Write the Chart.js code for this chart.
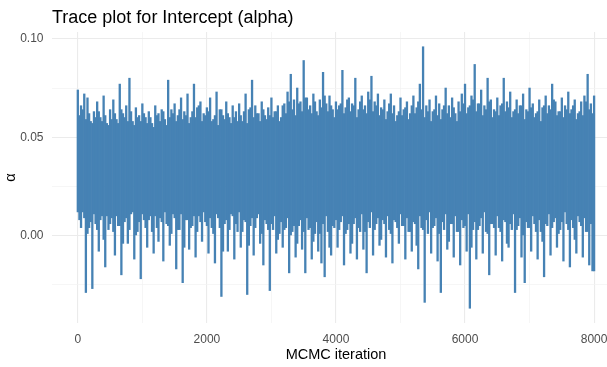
<!DOCTYPE html>
<html>
<head>
<meta charset="utf-8">
<script src="https://cdn.jsdelivr.net/npm/chart.js@4"></script>
<style>
  html, body { margin: 0; padding: 0; background: #ffffff; }
  #c { display: block; }
</style>
</head>
<body>
<canvas id="c" width="607" height="367"></canvas>
<script>
// ---- Data ----
// The trace is summarised per thin column (every 25 iterations) by the
// highest and lowest value the line reaches inside that column.
const colStep = 25;
// Columns at iterations 0, 50, 100, ..., 8000
const evenHigh = [
  0.074,0.066,0.072,0.070,0.058,0.063,0.068,0.060,0.071,0.057,
  0.064,0.069,0.059,0.077,0.062,0.066,0.080,0.058,0.065,0.061,
  0.067,0.060,0.063,0.057,0.066,0.062,0.064,0.059,0.079,0.064,
  0.067,0.061,0.070,0.063,0.072,0.060,0.077,0.065,0.068,0.062,
  0.065,0.070,0.059,0.073,0.064,0.061,0.068,0.060,0.066,0.063,
  0.067,0.058,0.072,0.064,0.079,0.066,0.062,0.068,0.061,0.065,
  0.070,0.063,0.066,0.060,0.067,0.073,0.082,0.069,0.075,0.068,
  0.089,0.070,0.066,0.072,0.063,0.069,0.083,0.067,0.071,0.064,
  0.068,0.066,0.084,0.065,0.070,0.067,0.080,0.064,0.071,0.066,
  0.073,0.081,0.068,0.072,0.065,0.069,0.063,0.072,0.066,0.061,
  0.070,0.064,0.068,0.062,0.071,0.065,0.077,0.096,0.066,0.069,
  0.063,0.071,0.067,0.064,0.075,0.066,0.070,0.062,0.068,0.072,
  0.077,0.065,0.071,0.087,0.067,0.074,0.066,0.080,0.069,0.064,
  0.070,0.066,0.080,0.068,0.073,0.063,0.069,0.066,0.072,0.064,
  0.075,0.067,0.062,0.069,0.065,0.071,0.066,0.077,0.068,0.063,
  0.070,0.066,0.073,0.064,0.069,0.062,0.068,0.071,0.082,0.067,
  0.071
];
const evenLow = [
  0.012,0.004,0.009,0.001,0.007,0.011,0.003,0.008,-0.002,0.010,
  0.006,0.002,0.010,0.005,-0.004,0.009,0.003,0.012,0.000,0.007,
  0.011,0.004,0.008,0.002,0.010,-0.003,0.007,0.012,0.005,0.001,
  0.009,0.003,0.011,-0.006,0.008,0.004,0.010,0.002,0.007,0.012,
  0.005,0.009,0.001,0.011,0.004,-0.008,0.008,0.003,0.010,0.006,
  0.012,0.002,0.007,-0.005,0.009,0.004,0.011,0.001,0.008,0.003,
  0.006,0.010,-0.002,0.007,0.003,0.009,0.000,0.005,-0.004,0.008,
  0.002,0.009,0.004,-0.003,0.007,0.001,0.006,0.010,-0.006,0.005,
  0.008,0.003,0.010,0.001,0.006,-0.004,0.009,0.004,0.011,0.002,
  0.007,0.012,0.003,0.009,-0.002,0.006,0.010,0.001,0.008,0.004,
  0.011,0.005,0.009,0.002,0.007,-0.005,0.010,0.003,0.008,0.012,
  0.004,0.009,0.001,0.007,0.011,-0.003,0.006,0.010,0.002,0.008,
  0.005,0.011,-0.006,0.007,0.003,0.009,0.012,0.001,0.006,0.004,
  0.010,0.002,0.008,-0.004,0.006,0.011,0.003,0.009,0.000,0.007,
  0.004,0.010,0.002,0.008,-0.003,0.006,0.011,0.004,0.009,0.001,
  0.007,0.012,0.003,0.008,-0.002,0.010,0.005,0.009,0.002,0.006,
  -0.018
];
// Columns at iterations 25, 75, 125, ..., 7975
const oddHigh = [
  0.061,0.064,0.059,0.062,0.057,0.060,0.063,0.058,0.061,0.056,
  0.059,0.062,0.057,0.064,0.060,0.058,0.063,0.056,0.060,0.058,
  0.062,0.057,0.060,0.055,0.061,0.058,0.063,0.056,0.060,0.062,
  0.058,0.064,0.059,0.061,0.057,0.063,0.060,0.066,0.058,0.061,
  0.063,0.058,0.061,0.056,0.064,0.059,0.062,0.057,0.060,0.058,
  0.061,0.063,0.057,0.065,0.060,0.062,0.058,0.064,0.059,0.061,
  0.060,0.063,0.058,0.066,0.062,0.068,0.064,0.061,0.067,0.063,
  0.070,0.064,0.062,0.068,0.061,0.065,0.071,0.063,0.066,0.060,
  0.064,0.067,0.062,0.069,0.063,0.066,0.060,0.068,0.064,0.062,
  0.069,0.063,0.066,0.061,0.064,0.059,0.067,0.062,0.058,0.063,
  0.061,0.065,0.059,0.066,0.062,0.068,0.064,0.060,0.063,0.058,
  0.064,0.061,0.059,0.066,0.062,0.060,0.065,0.058,0.063,0.067,
  0.062,0.066,0.069,0.063,0.067,0.061,0.064,0.068,0.060,0.063,
  0.061,0.067,0.063,0.065,0.060,0.064,0.062,0.066,0.059,0.063,
  0.065,0.060,0.063,0.058,0.066,0.062,0.064,0.069,0.061,0.063,
  0.060,0.064,0.062,0.066,0.059,0.063,0.061,0.068,0.064,0.062
];
const oddLow = [
  0.008,0.012,-0.029,0.004,-0.027,0.006,-0.008,0.010,-0.016,0.003,
  0.009,-0.010,0.005,-0.020,0.007,-0.004,0.011,-0.012,0.002,-0.022,
  0.008,-0.006,0.010,-0.009,0.004,0.009,-0.013,0.006,-0.005,0.011,
  -0.017,0.003,-0.024,0.008,-0.007,0.005,-0.011,0.010,-0.003,0.007,
  -0.009,0.004,-0.014,0.009,-0.031,0.006,-0.008,0.011,-0.012,0.002,
  -0.006,0.008,-0.030,0.005,-0.010,0.009,-0.004,-0.015,0.006,-0.028,
  0.003,-0.009,0.001,-0.006,0.004,-0.019,0.002,-0.011,0.005,-0.007,
  -0.019,0.003,-0.012,0.001,-0.008,-0.014,-0.021,0.002,-0.010,0.004,
  -0.006,0.007,-0.015,0.003,-0.009,0.006,-0.012,0.002,-0.007,-0.019,
  0.004,-0.010,0.006,-0.005,0.008,-0.011,0.003,-0.014,0.007,-0.004,
  0.005,-0.012,0.002,-0.008,0.006,-0.017,0.004,-0.034,0.001,-0.009,
  0.005,-0.013,-0.029,0.003,-0.007,0.006,-0.011,0.002,-0.015,0.004,
  -0.008,-0.037,0.003,-0.012,0.005,-0.009,0.002,-0.020,0.006,-0.010,
  0.004,-0.013,0.007,-0.006,0.003,-0.029,0.005,-0.011,-0.024,0.004,
  -0.008,0.006,-0.012,0.002,-0.021,0.005,-0.010,0.007,-0.006,0.003,
  -0.013,0.006,-0.016,0.004,-0.009,0.007,-0.011,0.002,-0.015,-0.018
];
// Axis ticks and labels
const xTicks = [0,1000,2000,3000,4000,5000,6000,7000,8000];
const xTickLabels = {0:'0',2000:'2000',4000:'4000',6000:'6000',8000:'8000'};
const yTicks = [-0.025,0,0.025,0.05,0.075,0.10];
const yTickLabels = {'0':'0.00','0.05':'0.05','0.1':'0.10'};
const titleText = 'Trace plot for Intercept (alpha)';
const xTitle = 'MCMC iteration';
const yTitle = 'α';

// Build one floating range per column, in iteration order
const columns = [];
for (let i = 0; i < evenHigh.length; i++) {
  columns.push({x: 2 * i * colStep, y: [evenLow[i], evenHigh[i]]});
  if (i < oddHigh.length) columns.push({x: (2 * i + 1) * colStep, y: [oddLow[i], oddHigh[i]]});
}

const FONT = '"Liberation Sans", Arial, sans-serif';
const isMajorX = v => Math.abs(v % 2000) < 1e-9;
const isMajorY = v => Math.abs(Math.round(v * 1000) % 50) < 1e-9;

const textPlugin = {
  id: 'texts',
  afterDraw(chart) {
    const ctx = chart.ctx;
    const area = chart.chartArea;
    ctx.save();
    ctx.fillStyle = '#000000';
    ctx.font = '18px ' + FONT;
    ctx.textAlign = 'left';
    ctx.textBaseline = 'alphabetic';
    ctx.fillText(titleText, 52, 23);
    ctx.font = '14.5px ' + FONT;
    ctx.textAlign = 'center';
    ctx.textBaseline = 'middle';
    ctx.fillText(xTitle, 336, 355);
    ctx.translate(11, (area.top + area.bottom) / 2);
    ctx.rotate(-Math.PI / 2);
    ctx.fillText(yTitle, 0, 0);
    ctx.restore();
  }
};

new Chart(document.getElementById('c'), {
  type: 'bar',
  data: {
    datasets: [{
      data: columns,
      backgroundColor: '#4682B4',
      borderWidth: 0,
      borderSkipped: false,
      barThickness: 1.65,
      grouped: false
    }]
  },
  options: {
    responsive: false,
    animation: false,
    devicePixelRatio: 1,
    layout: { padding: { left: 0, right: 0, top: 32, bottom: 0 } },
    plugins: { legend: { display: false }, title: { display: false }, tooltip: { enabled: false } },
    scales: {
      x: {
        type: 'linear',
        offset: false,
        min: -400,
        max: 8200,
        afterBuildTicks: s => { s.ticks = xTicks.map(v => ({value: v})); },
        afterFit: s => { s.height = 44; s.paddingLeft = 0; s.paddingRight = 0; },
        border: { display: false },
        grid: {
          offset: false,
          drawTicks: false,
          color: ctx => ctx.tick && isMajorX(ctx.tick.value) ? '#EBEBEB' : '#F2F2F2',
          lineWidth: ctx => ctx.tick && isMajorX(ctx.tick.value) ? 1.1 : 0.7
        },
        ticks: {
          autoSkip: false,
          maxRotation: 0,
          padding: 9,
          color: '#4D4D4D',
          font: { family: FONT, size: 12 },
          callback: v => xTickLabels[v] !== undefined ? xTickLabels[v] : ''
        }
      },
      y: {
        type: 'linear',
        min: -0.0445,
        max: 0.1035,
        afterBuildTicks: s => { s.ticks = yTicks.map(v => ({value: v})); },
        afterFit: s => { s.width = 52; s.paddingTop = 0; s.paddingBottom = 0; },
        border: { display: false },
        grid: {
          drawTicks: false,
          color: ctx => ctx.tick && isMajorY(ctx.tick.value) ? '#EBEBEB' : '#F2F2F2',
          lineWidth: ctx => ctx.tick && isMajorY(ctx.tick.value) ? 1.1 : 0.7
        },
        ticks: {
          autoSkip: false,
          padding: 8.5,
          color: '#4D4D4D',
          font: { family: FONT, size: 12 },
          callback: v => {
            const k = String(Math.round(v * 1000) / 1000);
            return yTickLabels[k] !== undefined ? yTickLabels[k] : '';
          }
        }
      }
    }
  },
  plugins: [textPlugin]
});
</script>
</body>
</html>
